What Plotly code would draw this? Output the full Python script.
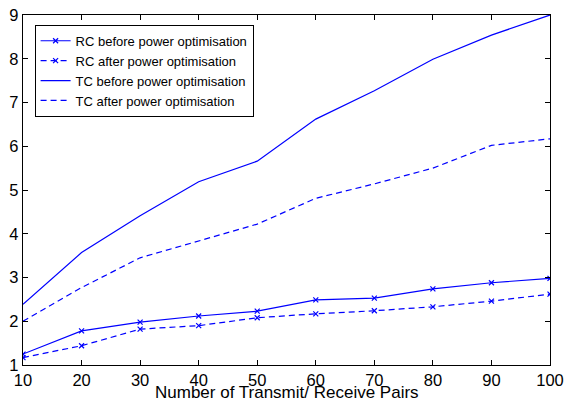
import plotly.graph_objects as go

pairs = [10, 20, 30, 40, 50, 60, 70, 80, 90, 100]
rc_before = [1.25, 1.78, 1.98, 2.12, 2.23, 2.49, 2.53, 2.74, 2.88, 2.98]
rc_after = [1.17, 1.44, 1.82, 1.90, 2.08, 2.17, 2.24, 2.33, 2.46, 2.62]
tc_before = [2.39, 3.57, 4.41, 5.19, 5.66, 6.62, 7.27, 7.99, 8.54, 9.0]
tc_after = [2.0, 2.77, 3.45, 3.84, 4.22, 4.81, 5.14, 5.50, 6.02, 6.17]

names = ["RC before power optimisation", "RC after power optimisation",
         "TC before power optimisation", "TC after power optimisation"]
x_title = "Number of Transmit/ Receive Pairs"

blue = "rgb(0,0,255)"
fig = go.Figure()
fig.add_trace(go.Scatter(x=pairs, y=rc_before, name=names[0], mode="lines+markers",
                         line=dict(color=blue, width=1.2),
                         marker=dict(symbol="x-thin", size=5, line=dict(color=blue, width=1.2))))
fig.add_trace(go.Scatter(x=pairs, y=rc_after, name=names[1], mode="lines+markers",
                         line=dict(color=blue, width=1.2, dash="6px,4px"),
                         marker=dict(symbol="x-thin", size=5, line=dict(color=blue, width=1.2))))
fig.add_trace(go.Scatter(x=pairs, y=tc_before, name=names[2], mode="lines",
                         line=dict(color=blue, width=1.2)))
fig.add_trace(go.Scatter(x=pairs, y=tc_after, name=names[3], mode="lines",
                         line=dict(color=blue, width=1.2, dash="6px,4px")))

font_family = "Liberation Sans, Arial"
axis_common = dict(showgrid=False, zeroline=False, showline=True, linecolor="black",
                   linewidth=1.3, mirror="ticks", ticks="inside", ticklen=5,
                   tickcolor="black", automargin=False, ticklabeloverflow="allow",
                   tickfont=dict(size=16.5, color="black", family=font_family))
fig.update_xaxes(range=[10, 100], tickvals=pairs, **axis_common)
fig.update_yaxes(range=[1, 9], tickvals=list(range(1, 10)), **axis_common)

fig.add_annotation(text=x_title, xref="paper", yref="paper", x=0.5, y=-39 / 350,
                   xanchor="center", yanchor="bottom", showarrow=False,
                   font=dict(size=17, color="black", family=font_family))

fig.update_layout(
    width=564, height=404,
    margin=dict(l=22.5, r=14, t=15, b=39),
    paper_bgcolor="white", plot_bgcolor="white",
    showlegend=True,
    legend=dict(x=0.022, y=0.972, xanchor="left", yanchor="top",
                bgcolor="white", bordercolor="black", borderwidth=1,
                font=dict(size=13, color="black", family=font_family),
                tracegroupgap=0, itemwidth=30),
)

fig.write_html("out.html")
